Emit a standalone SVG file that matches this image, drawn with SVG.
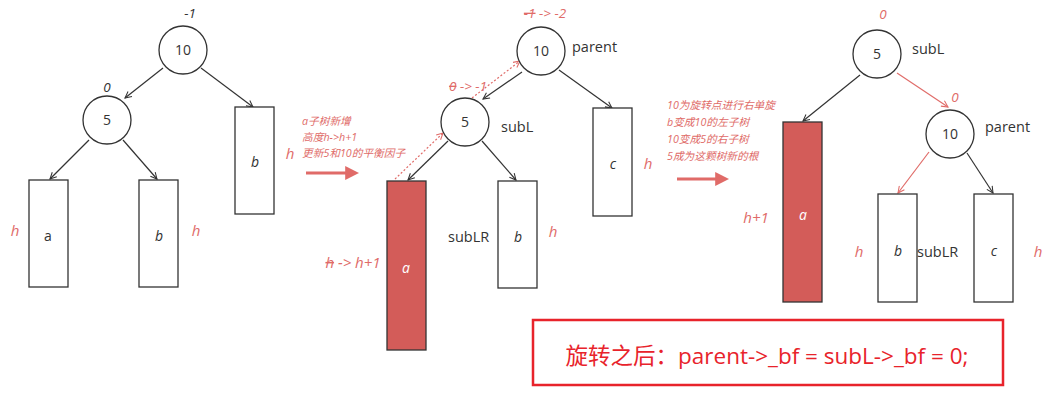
<svg xmlns="http://www.w3.org/2000/svg" width="1062" height="404" viewBox="0 0 1062 404">
<style>
text{font-family:"Open Sans","Noto Sans","Noto Sans CJK SC",sans-serif}
.node circle{fill:#fff;stroke:#333;stroke-width:1.3}
.box{fill:#fff;stroke:#333;stroke-width:1.3}
.redbox{fill:#d35c59;stroke:#333;stroke-width:1.3}
.lbl{font-size:14px;fill:#333;text-anchor:middle}
.it{font-style:italic}
.side{font-size:14.5px;fill:#333}
.rh{font-size:15px;fill:#e06b68;font-style:italic;text-anchor:middle}
.bf{font-size:13.5px;font-style:italic;text-anchor:middle}
.note{font-size:10.7px;fill:#e06b68;font-style:italic}
.e{stroke:#333;stroke-width:1.2;fill:none;marker-end:url(#ab)}
.er{stroke:#e06b68;stroke-width:1.2;fill:none;marker-end:url(#ar)}
.ed{stroke:#e06b68;stroke-width:1.2;fill:none;stroke-dasharray:2 2;marker-end:url(#ar)}
.big{stroke:#e06b68;stroke-width:3;fill:none;marker-end:url(#af)}
.st{text-decoration:line-through}
</style>
<defs>
<marker id="ab" viewBox="0 0 10 10" refX="9" refY="5" markerWidth="8" markerHeight="8" orient="auto" markerUnits="userSpaceOnUse"><path d="M1,1 L9,5 L1,9" fill="none" stroke="#333" stroke-width="1.3"/></marker>
<marker id="ar" viewBox="0 0 10 10" refX="9" refY="5" markerWidth="8" markerHeight="8" orient="auto" markerUnits="userSpaceOnUse"><path d="M1,1 L9,5 L1,9" fill="none" stroke="#e06b68" stroke-width="1.3"/></marker>
<marker id="af" viewBox="0 0 10 10" refX="2" refY="5" markerWidth="14" markerHeight="14" orient="auto" markerUnits="userSpaceOnUse"><path d="M0,0 L10,5 L0,10 Z" fill="#e06b68"/></marker>
</defs>

<g id="connectors">
<line class="e" x1="163" y1="68" x2="125" y2="98"/>
<line class="e" x1="201" y1="68" x2="253" y2="107"/>
<line class="e" x1="89" y1="140" x2="50" y2="179"/>
<line class="e" x1="123" y1="140" x2="157" y2="179"/>
<line class="e" x1="522" y1="72" x2="483" y2="99"/>
<line class="e" x1="559" y1="70" x2="612" y2="108"/>
<line class="e" x1="448" y1="141" x2="408" y2="180"/>
<line class="e" x1="482" y1="141" x2="516" y2="180"/>
<line class="ed" x1="395" y1="179" x2="443" y2="133"/>
<line class="ed" x1="472" y1="98" x2="520" y2="61"/>
<line class="e" x1="860" y1="75" x2="803" y2="121"/>
<line class="er" x1="897" y1="73" x2="948" y2="107"/>
<line class="er" x1="929" y1="152" x2="898" y2="193"/>
<line class="e" x1="967" y1="153" x2="993" y2="193"/>
<line class="big" x1="306" y1="173" x2="348" y2="173"/>
<line class="big" x1="677" y1="179" x2="718" y2="179"/>
</g>

<g id="p1-n10" class="node"><circle cx="183" cy="50" r="24"/><text class="lbl" x="183" y="55">10</text><text class="bf" x="190" y="18" fill="#333">-1</text></g>
<g id="p1-n5" class="node"><circle cx="107" cy="120" r="24"/><text class="lbl" x="107" y="125">5</text><text class="bf" x="107" y="92" fill="#333">0</text></g>
<g id="p1-b-right"><rect class="box" x="235" y="107" width="39" height="107"/><text class="lbl it" x="255" y="167">b</text><text class="rh" x="290" y="159">h</text></g>
<g id="p1-a"><rect class="box" x="29" y="180" width="39" height="107"/><text class="lbl" x="48" y="241">a</text><text class="rh" x="15" y="236">h</text></g>
<g id="p1-b"><rect class="box" x="139" y="180" width="39" height="107"/><text class="lbl it" x="159" y="241">b</text><text class="rh" x="196" y="236">h</text></g>

<g id="note1">
<text class="note" x="302" y="125">a子树新增</text>
<text class="note" x="302" y="141">高度h-&gt;h+1</text>
<text class="note" x="302" y="157">更新5和10的平衡因子</text>
</g>

<g id="p2-n10" class="node"><circle cx="541" cy="51" r="24"/><text class="lbl" x="541" y="56">10</text>
<text class="bf" x="545" y="18" fill="#e06b68"><tspan class="st">-1</tspan> -&gt; -2</text>
<text class="side" x="572" y="52">parent</text></g>
<g id="p2-n5" class="node"><circle cx="465" cy="122" r="24"/><text class="lbl" x="465" y="127">5</text>
<text class="bf" x="468" y="91" fill="#e06b68"><tspan class="st">0</tspan> -&gt; -1</text>
<text class="side" x="501" y="132">subL</text></g>
<g id="p2-c"><rect class="box" x="593" y="108" width="39" height="108"/><text class="lbl it" x="613" y="169">c</text><text class="rh" x="648" y="169">h</text></g>
<g id="p2-a"><rect class="redbox" x="387" y="181" width="39" height="169"/><text class="lbl it" x="406" y="273" style="fill:#fff">a</text>
<text class="rh" x="353" y="268"><tspan class="st">h</tspan> -&gt; h+1</text></g>
<g id="p2-b"><rect class="box" x="498" y="181" width="39" height="107"/><text class="lbl it" x="518" y="242">b</text>
<text class="side" x="448" y="242">subLR</text><text class="rh" x="553" y="237">h</text></g>

<g id="note2">
<text class="note" x="667" y="109">10为旋转点进行右单旋</text>
<text class="note" x="667" y="126">b变成10的左子树</text>
<text class="note" x="667" y="143">10变成5的右子树</text>
<text class="note" x="667" y="160">5成为这颗树新的根</text>
</g>

<g id="p3-n5" class="node"><circle cx="877" cy="54" r="24"/><text class="lbl" x="877" y="59">5</text>
<text class="bf" x="883" y="19" fill="#e06b68">0</text><text class="side" x="912" y="54">subL</text></g>
<g id="p3-n10" class="node"><circle cx="950" cy="134" r="24"/><text class="lbl" x="950" y="139">10</text>
<text class="bf" x="955" y="102" fill="#e06b68">0</text><text class="side" x="985" y="132">parent</text></g>
<g id="p3-a"><rect class="redbox" x="783" y="122" width="39" height="180"/><text class="lbl it" x="803" y="220" style="fill:#fff">a</text><text class="rh" x="756" y="223">h+1</text></g>
<g id="p3-b"><rect class="box" x="878" y="194" width="39" height="108"/><text class="lbl it" x="898" y="256">b</text><text class="rh" x="859" y="257">h</text>
<text class="side" x="917" y="257">subLR</text></g>
<g id="p3-c"><rect class="box" x="974" y="194" width="39" height="108"/><text class="lbl it" x="994" y="256">c</text><text class="rh" x="1038" y="257">h</text></g>

<g id="result"><rect x="533" y="320" width="470" height="65" fill="#fff" stroke="#e8232b" stroke-width="2.5"/>
<text x="767" y="364" font-size="22.5" fill="#e8232b" text-anchor="middle">旋转之后：parent-&gt;_bf = subL-&gt;_bf = 0;</text></g>
</svg>
